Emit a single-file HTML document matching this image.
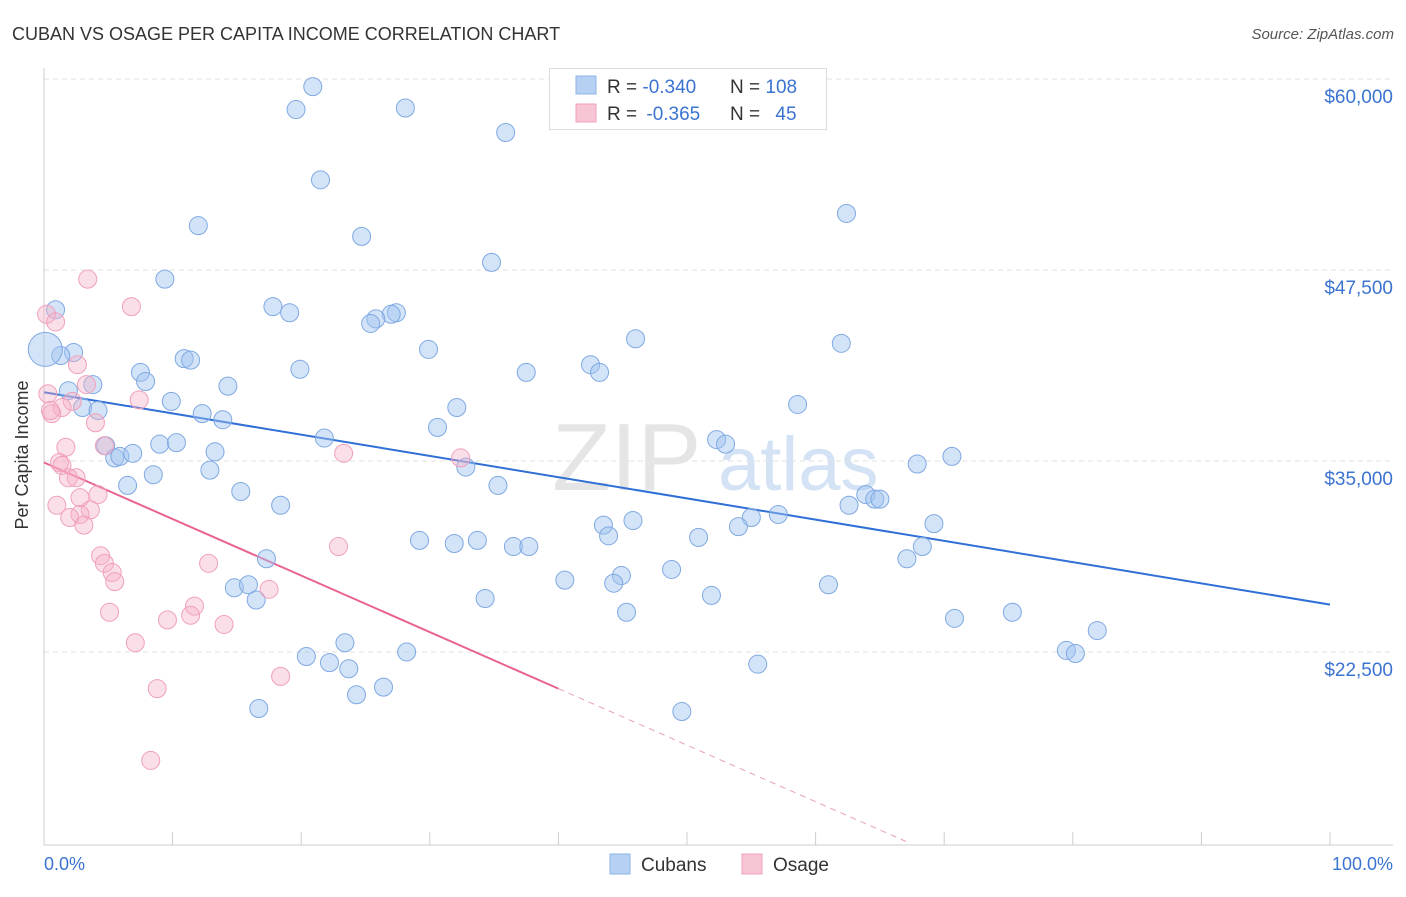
<!DOCTYPE html>
<html><head><meta charset="utf-8"><style>
body{margin:0;background:#fff;font-family:"Liberation Sans",sans-serif;}
svg text{font-family:"Liberation Sans",sans-serif;}
</style></head><body>
<svg id="chart" width="1406" height="892" viewBox="0 0 1406 892" xmlns="http://www.w3.org/2000/svg">
<text x="12" y="40" font-size="18" fill="#333">CUBAN VS OSAGE PER CAPITA INCOME CORRELATION CHART</text>
<text x="1394" y="39" font-size="15" fill="#555" font-style="italic" text-anchor="end">Source: ZipAtlas.com</text>
<g opacity="0.9">
<text x="552" y="490" font-size="96" font-family="Liberation Serif,serif" fill="#e3e3e3">ZIP</text>
<text x="718" y="490" font-size="76" fill="#cfdff3">atlas</text>
</g>
<g id="grid"></g>
<g id="axes"></g>
<g id="lines"></g>
<g id="pts"></g>
<text x="28" y="455" font-size="18" fill="#333" transform="rotate(-90 28 455)" text-anchor="middle">Per Capita Income</text>
<text x="44" y="870" font-size="18" fill="#3b73d1">0.0%</text>
<text x="1393" y="870" font-size="18" fill="#3b73d1" text-anchor="end">100.0%</text>
<g>
<rect x="549.5" y="68.5" width="277" height="61" fill="#fff" stroke="#ddd"/>
<rect x="576" y="76" width="20" height="18" fill="#b5d0f3" stroke="#8fb5e8"/>
<rect x="576" y="104" width="20" height="18" fill="#f8c5d4" stroke="#f0a0bc"/>
<text x="607" y="93" font-size="19" fill="#333">R = <tspan fill="#3b73d1">-0.340</tspan><tspan x="730">N = </tspan><tspan fill="#3b73d1">108</tspan></text>
<text x="607" y="120" font-size="19" fill="#333">R = <tspan fill="#3b73d1" dx="4">-0.365</tspan><tspan x="730">N = </tspan><tspan fill="#3b73d1" dx="10">45</tspan></text>
</g>
<g>
<rect x="610" y="854" width="20" height="20" fill="#b5d0f3" stroke="#8fb5e8"/>
<text x="641" y="871" font-size="19" fill="#333">Cubans</text>
<rect x="742" y="854" width="20" height="20" fill="#f8c5d4" stroke="#f0a0bc"/>
<text x="773" y="871" font-size="19" fill="#333">Osage</text>
</g>
</svg>
<script>
const yTicks=[60000,47500,35000,22500];
const yTickLabels=["$60,000","$47,500","$35,000","$22,500"];
const xTicks=[0,10,20,30,40,50,60,70,80,90,100];
const cubanX=[20.9,19.6,28.1,35.9,21.5,62.4,12.0,24.7,34.8,9.4,0.9,17.8,19.1,27.4,27.0,25.8,25.4,46.0,62.0,29.9,2.3,1.3,10.9,11.4,19.9,42.5,43.2,37.5,7.5,7.9,14.3,3.8,1.9,58.6,9.9,32.1,3.0,4.2,12.3,13.9,30.6,21.8,52.3,53.0,4.8,9.0,10.3,13.3,5.5,5.9,6.9,70.6,67.9,32.8,12.9,8.5,6.5,35.3,15.3,18.4,63.9,64.6,65.0,62.6,57.1,55.0,43.5,45.8,54.0,69.2,43.9,50.9,29.2,31.9,33.7,36.5,37.7,17.3,68.3,67.1,48.8,40.5,44.9,44.3,61.0,14.8,15.9,16.5,34.3,51.9,45.3,75.3,70.8,81.9,23.4,20.4,28.2,22.2,23.7,79.5,80.2,55.5,26.4,24.3,16.7,49.6];
const cubanY=[59500,58000,58100,56500,53400,51200,50400,49700,48000,46900,44900,45100,44700,44700,44600,44300,44000,43000,42700,42300,42100,41900,41700,41600,41000,41300,40800,40800,40800,40200,39900,40000,39600,38700,38900,38500,38500,38300,38100,37700,37200,36500,36400,36100,36000,36100,36200,35600,35200,35300,35500,35300,34800,34600,34400,34100,33400,33400,33000,32100,32800,32500,32500,32100,31500,31300,30800,31100,30700,30900,30100,30000,29800,29600,29800,29400,29400,28600,29400,28600,27900,27200,27500,27000,26900,26700,26900,25900,26000,26200,25100,25100,24700,23900,23100,22200,22500,21800,21400,22600,22400,21700,20200,19700,18800,18600];
const cubanBigX=[0.1];
const cubanBigY=[42300];
const osageX=[3.4,6.8,0.2,0.9,2.6,3.3,0.3,7.4,2.2,1.4,0.6,0.5,4.0,1.7,4.7,32.4,23.3,1.2,1.4,2.5,1.9,4.2,2.8,1.0,3.6,2.8,2.0,3.1,22.9,4.4,4.7,12.8,5.3,5.5,17.5,5.1,11.7,9.6,11.4,14.0,7.1,18.4,8.8,8.3];
const osageY=[46900,45100,44600,44100,41300,40000,39400,39000,38900,38500,38100,38300,37500,35900,36000,35200,35500,34900,34700,33900,33900,32800,32600,32100,31800,31500,31300,30800,29400,28800,28300,28300,27700,27100,26600,25100,25500,24600,24900,24300,23100,20900,20100,15400];
const cubanTrend=[39500,25600];
const osageTrend=[34900,-370];
const osageSolidEnd=[40];
const osageDashEnd=[67.4];

const NS="http://www.w3.org/2000/svg";
const xS=v=>44+v*12.86;
const yS=v=>79+(60000-v)/65.45;
function mk(tag,attrs,parent){const e=document.createElementNS(NS,tag);for(const k in attrs)e.setAttribute(k,attrs[k]);parent.appendChild(e);return e;}
const grid=document.getElementById('grid'),axes=document.getElementById('axes'),lines=document.getElementById('lines'),pts=document.getElementById('pts');
yTicks.forEach((t,i)=>{
  const l=mk('line',{x1:44,x2:1393,y1:yS(t),y2:yS(t),stroke:'#e2e2e2','stroke-dasharray':'5,4'},grid);
  
  
  const tx=mk('text',{x:1393,y:yS(t)+24,'font-size':19,fill:'#3b73d1','text-anchor':'end'},grid);
  tx.textContent=yTickLabels[i];
  
  
});
const ax=mk('line',{x1:44,x2:44,y1:68,y2:845,stroke:'#ccc'},axes);


const bx=mk('line',{x1:44,x2:1393,y1:845,y2:845,stroke:'#ccc'},axes);


xTicks.forEach(t=>{
  const l=mk('line',{x1:xS(t),x2:xS(t),y1:832,y2:845,stroke:'#ccc'},axes);
  
  
});
function dot(x,y,r,fill,stroke,name){
  const c=mk('circle',{cx:xS(x),cy:yS(y),r:r,fill:fill,stroke:stroke,'stroke-width':1},pts);
  
  
}
cubanX.forEach((x,i)=>dot(x,cubanY[i],9,'rgba(160,196,240,0.45)','#7fa9e2','cuban-point'));
cubanBigX.forEach((x,i)=>dot(x,cubanBigY[i],17,'rgba(160,196,240,0.45)','#7fa9e2','cuban-point'));
osageX.forEach((x,i)=>dot(x,osageY[i],9,'rgba(245,175,198,0.4)','#f0a0bc','osage-point'));
const bl=mk('line',{x1:xS(0),y1:yS(cubanTrend[0]),x2:xS(100),y2:yS(cubanTrend[1]),stroke:'#2f6fd6','stroke-width':2},lines);


const oy=x=>osageTrend[0]+osageTrend[1]*x;
const pl=mk('line',{x1:xS(0),y1:yS(oy(0)),x2:xS(osageSolidEnd[0]),y2:yS(oy(osageSolidEnd[0])),stroke:'#e8648f','stroke-width':2},lines);


const pd=mk('line',{x1:xS(osageSolidEnd[0]),y1:yS(oy(osageSolidEnd[0])),x2:xS(osageDashEnd[0]),y2:yS(oy(osageDashEnd[0])),stroke:'#e8a0b8','stroke-width':1,'stroke-dasharray':'6,5'},lines);


</script>
</body></html>
